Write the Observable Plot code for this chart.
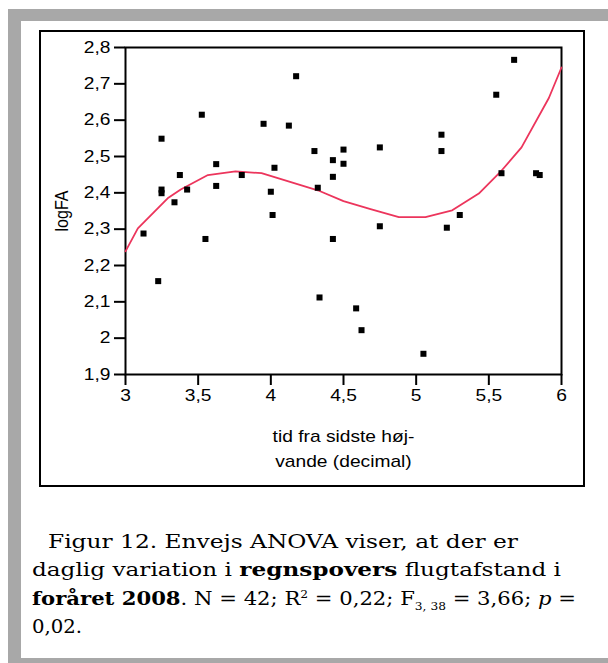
<!DOCTYPE html>
<html>
<head>
<meta charset="utf-8">
<script src="https://cdn.jsdelivr.net/npm/d3@7"></script>
<script src="https://cdn.jsdelivr.net/npm/@observablehq/plot@0.6"></script>
<style>
  html, body { margin: 0; padding: 0; background: #fff; }
  body { width: 608px; height: 663px; position: relative; overflow: hidden; }
  #gray { position: absolute; left: 8px; top: 9px; width: 620px; height: 660px; background: #a8a8a8; }
  #white { position: absolute; left: 21px; top: 21px; width: 620px; height: 637px; background: #fff; }
  #box { position: absolute; left: 39px; top: 30px; width: 546px; height: 457px; box-sizing: border-box; border: 2px solid #000; }
  #chart { position: absolute; left: 0; top: 0; }
  #cap { position: absolute; left: 32px; top: 527px; font-family: "DejaVu Serif", serif; font-size: 19px; line-height: 28.4px; color: #000; white-space: nowrap; }
  #cap div { height: 28.4px; }
  #cap .ln { display: inline-block; transform-origin: 0 50%; }
  sub, sup { font-size: 11px; line-height: 0; }
</style>
</head>
<body>
<div id="gray"></div>
<div id="white"></div>
<div id="box"></div>
<div id="chart"></div>
<div id="cap">
  <div style="padding-left:16px"><span class="ln" data-w="470">Figur 12. Envejs ANOVA viser, at der er</span></div>
  <div><span class="ln" data-w="529">daglig variation i <b>regnspovers</b> flugtafstand i</span></div>
  <div><span class="ln" data-w="544"><b>foråret 2008</b>. N = 42; R<sup>2</sup> = 0,22; F<sub>3, 38</sub> = 3,66; <i>p</i> =</span></div>
  <div><span class="ln" data-w="50">0,02.</span></div>
</div>
<script>
// Data points: tid fra sidste højvande (decimal) vs logFA
const tid = [3.124, 3.225, 3.248, 3.248, 3.248, 3.337, 3.374, 3.424, 3.525, 3.550,
             3.624, 3.624, 3.800, 3.950, 4.000, 4.012, 4.025, 4.124, 4.174, 4.300,
             4.323, 4.335, 4.427, 4.427, 4.427, 4.500, 4.500, 4.587, 4.624, 4.750,
             4.750, 5.050, 5.174, 5.174, 5.211, 5.300, 5.551, 5.587, 5.674, 5.825, 5.850];
const logFA = [2.288, 2.157, 2.549, 2.409, 2.399, 2.374, 2.449, 2.409, 2.615, 2.273,
               2.479, 2.419, 2.449, 2.590, 2.403, 2.339, 2.469, 2.585, 2.721, 2.515,
               2.414, 2.112, 2.490, 2.444, 2.273, 2.519, 2.480, 2.082, 2.022, 2.525,
               2.308, 1.957, 2.560, 2.515, 2.304, 2.339, 2.670, 2.454, 2.766, 2.454, 2.449];

const fitX = [3.0, 3.085, 3.29, 3.38, 3.567, 3.757, 3.936, 4.323, 4.50, 4.686,
              4.881, 5.064, 5.248, 5.431, 5.576, 5.725, 5.913, 6.0];
const fitY = [2.239, 2.302, 2.385, 2.409, 2.449, 2.459, 2.454, 2.407, 2.377, 2.355,
              2.333, 2.333, 2.352, 2.398, 2.456, 2.525, 2.661, 2.745];

const xTicks = [3, 3.5, 4, 4.5, 5, 5.5, 6];
const yTicks = [1.9, 2.0, 2.1, 2.2, 2.3, 2.4, 2.5, 2.6, 2.7, 2.8];
const xLabel = "tid fra sidste høj-\nvande (decimal)";
const yLabel = "logFA";

const points = tid.map((t, i) => ({x: t, y: logFA[i]}));
const fit = fitX.map((t, i) => ({x: t, y: fitY[i]}));
const fmt = d => String(+d.toFixed(2)).replace(".", ",");

const chart = Plot.plot({
  width: 608,
  height: 500,
  marginLeft: 125,
  marginRight: 47,
  marginTop: 47,
  marginBottom: 126,
  style: { fontFamily: "'Liberation Sans', Arial, sans-serif", fontSize: "16px", color: "#000", background: "transparent", overflow: "visible" },
  x: { domain: [3, 6] },
  y: { domain: [1.9, 2.8] },
  marks: [
    Plot.frame({ stroke: "#000", strokeWidth: 2 }),
    Plot.axisX({ ticks: xTicks, tickFormat: fmt, tickSize: 11, tickPadding: 4, strokeWidth: 2, label: null }),
    Plot.axisY({ ticks: yTicks, tickFormat: fmt, tickSize: 11, tickPadding: 4, strokeWidth: 2,
                 label: yLabel, labelAnchor: "center", labelOffset: 71, labelArrow: false }),
    Plot.line(fit, { x: "x", y: "y", stroke: "#ec355c", strokeWidth: 1.8 }),
    Plot.dot(points, { x: "x", y: "y", symbol: "square", r: 3.4, fill: "#000", stroke: "none" }),
    Plot.text([xLabel], { frameAnchor: "bottom", dy: 50, lineAnchor: "top", lineHeight: 1.56, fontSize: 16, fill: "#000" })
  ]
});
document.getElementById("chart").appendChild(chart);

// the reference's lettering is drawn wide: stretch each text horizontally about its anchor
chart.querySelectorAll("text").forEach(t => {
  const tr = t.getAttribute("transform") || "";
  const m = tr.match(/^\s*translate\([^)]*\)/);
  if (m) t.setAttribute("transform", m[0] + " scale(1.2,1)" + tr.slice(m[0].length));
  else t.setAttribute("transform", tr + " scale(1.2,1)");
});

// fit caption lines to the widths seen in the reference
document.querySelectorAll("#cap .ln").forEach(s => {
  const w = s.getBoundingClientRect().width;
  const target = +s.dataset.w;
  s.style.transform = `scaleX(${target / w})`;
});
</script>
</body>
</html>
